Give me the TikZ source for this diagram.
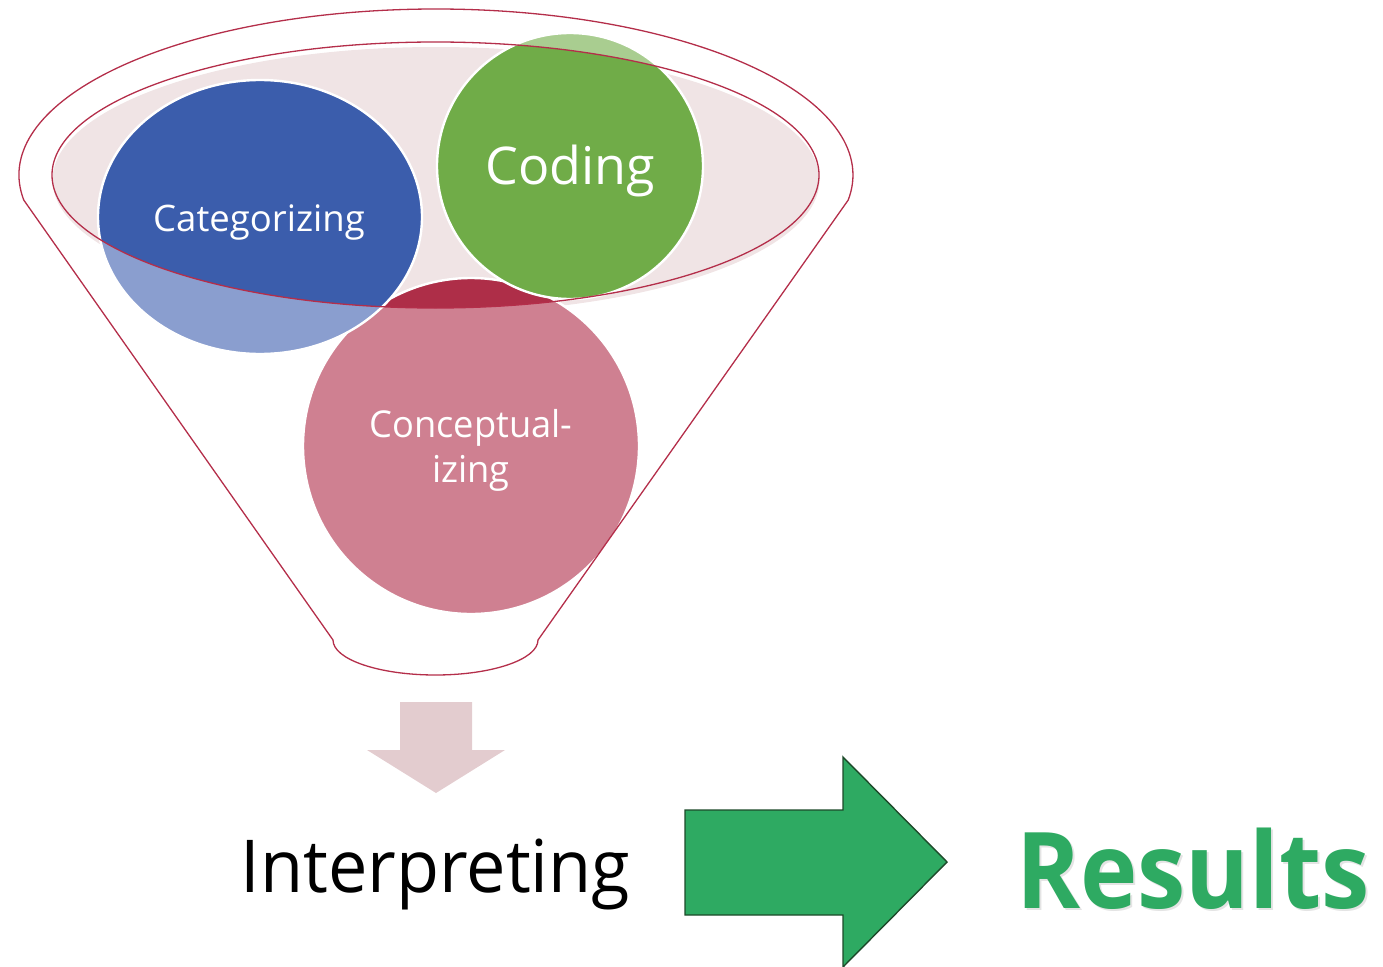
\documentclass[tikz,border=0pt]{standalone}
\usepackage{fontspec}
\setmainfont{Open Sans}
\newfontfamily\labelfont{Open Sans}
\newfontfamily\narrowfont[FakeStretch=0.98]{Open Sans}
\newfontfamily\bigfont[FakeStretch=0.962]{Open Sans}
\newfontfamily\resultfont[FakeStretch=0.916]{Open Sans Bold}
\usetikzlibrary{shapes.geometric}

\definecolor{catdark}{HTML}{3B5DAC}
\definecolor{catpale}{HTML}{8A9ECF}
\definecolor{coddark}{HTML}{70AC48}
\definecolor{codpale}{HTML}{A9CD90}
\definecolor{condark}{HTML}{AE2E48}
\definecolor{conpale}{HTML}{CF8091}
\definecolor{rimfill}{HTML}{F0E4E5}
\definecolor{funnelline}{HTML}{B42E4A}
\definecolor{downfill}{HTML}{E3CCCF}
\definecolor{resgreen}{HTML}{2EAA62}
\definecolor{resedge}{HTML}{1D4A2A}

\tikzset{
  ring/.style={draw=white, line width=2.4pt},
  outline/.style={draw=funnelline, line width=1.3pt},
  inlabel/.style={text=white, inner sep=0pt, anchor=base},
}

\begin{document}
\begin{tikzpicture}[x=1pt,y=-1pt]
\useasboundingbox (0,0) rectangle (1383,966);

% rim of the funnel (filled mouth)
\fill[rimfill] (436,180) ellipse[x radius=383.5, y radius=133];

% Conceptualizing circle (behind the other two)
\fill[conpale] (471,446) circle[radius=168];
\begin{scope}
  \clip (435.5,175) ellipse[x radius=383.5, y radius=133];
  \fill[condark] (471,446) circle[radius=168];
\end{scope}
\draw[ring] (471,446) circle[radius=168];

% Categorizing ellipse
\fill[catpale] (260,217) ellipse[x radius=162, y radius=137];
\begin{scope}
  \clip (435.5,175) ellipse[x radius=383.5, y radius=133];
  \fill[catdark] (260,217) ellipse[x radius=162, y radius=137];
\end{scope}
\draw[ring] (260,217) ellipse[x radius=162, y radius=137];

% Coding circle
\fill[codpale] (570,166) circle[radius=133];
\begin{scope}
  \clip (435.5,175) ellipse[x radius=383.5, y radius=133];
  \fill[coddark] (570,166) circle[radius=133];
\end{scope}
\draw[ring] (570,166) circle[radius=133];

% rim outline over the circles
\draw[outline] (435.5,175) ellipse[x radius=383.5, y radius=133];

% funnel body outline
\draw[outline, line join=round]
  (23.8,200.1) arc[start angle=171.3, end angle=368.7, x radius=417, y radius=166]
  -- (538,640) arc[start angle=0, end angle=180, x radius=102.5, y radius=35]
  -- cycle;

% circle labels
\node[inlabel, font=\labelfont\fontsize{36.5}{44}\selectfont] (cat) at (259,231) {Categorizing};
\node[inlabel, font=\labelfont\fontsize{52}{60}\selectfont] (cod) at (570,184) {Coding};
\node[inlabel, font=\narrowfont\fontsize{37}{45}\selectfont] (con1) at (471,437) {Conceptual-};
\node[inlabel, font=\narrowfont\fontsize{37}{45}\selectfont] (con2) at (471,482) {izing};

% downward block arrow
\fill[downfill] (400,702) -- (472,702) -- (472,750) -- (505,750) -- (436,793)
  -- (367,750) -- (400,750) -- cycle;

% Interpreting
\node[inner sep=0pt, anchor=base, font=\bigfont\fontsize{73}{80}\selectfont] (interp) at (435.5,892) {Interpreting};

% right block arrow
\draw[fill=resgreen, draw=resedge, line width=1.4pt, line join=miter]
  (685,810) -- (843,810) -- (843,757) -- (947,862) -- (843,967) -- (843,915)
  -- (685,915) -- cycle;

% Results with a soft shadow
\node[inner sep=0pt, anchor=base, text=black!30, opacity=0.35,
      font=\resultfont\fontsize{106}{110}\selectfont] (resshadow) at (1195,910.5) {Results};
\node[inner sep=0pt, anchor=base, text=resgreen,
      font=\resultfont\fontsize{106}{110}\selectfont] (results) at (1193,908) {Results};
\end{tikzpicture}
\end{document}
